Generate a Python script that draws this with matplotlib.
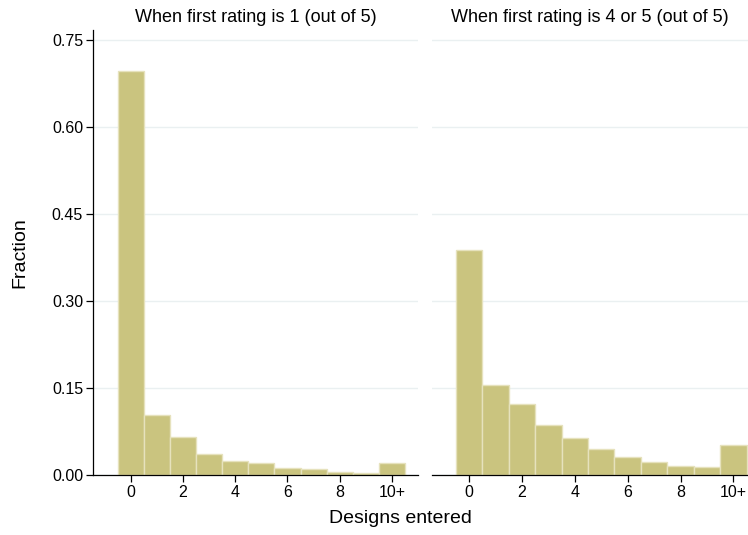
import matplotlib
matplotlib.use("Agg")
import matplotlib.pyplot as plt

plt.rcParams["font.family"] = ["Liberation Sans", "DejaVu Sans"]

bins = list(range(11))
tick_pos = [0, 2, 4, 6, 8, 10]
tick_labels = ["0", "2", "4", "6", "8", "10+"]
y_ticks = [0.0, 0.15, 0.30, 0.45, 0.60, 0.75]

frac_rating1 = [0.697, 0.103, 0.066, 0.037, 0.024, 0.020, 0.013, 0.010, 0.005, 0.0035, 0.021]
frac_rating45 = [0.388, 0.156, 0.122, 0.087, 0.064, 0.045, 0.032, 0.022, 0.0155, 0.014, 0.052]

titles = ["When first rating is 1 (out of 5)", "When first rating is 4 or 5 (out of 5)"]

BAR = "#cac47f"
EDGE = "#e6e2bd"
GRID = "#eaf0f1"

fig = plt.figure(figsize=(7.48, 5.35), dpi=100)
ax1 = fig.add_axes([0.124, 0.112, 0.435, 0.832])
ax2 = fig.add_axes([0.5775, 0.112, 0.4225, 0.832])

for ax, vals, title, xlim in [(ax1, frac_rating1, titles[0], (-1.45, 11.0)),
                              (ax2, frac_rating45, titles[1], (-1.4, 10.55))]:
    ax.bar(bins, vals, width=1.0, color=BAR, edgecolor=EDGE, linewidth=1.0, zorder=2)
    ax.set_xlim(*xlim)
    ax.set_ylim(0, 0.767)
    ax.set_yticks(y_ticks)
    ax.grid(True, axis="y", color=GRID, linewidth=1.0, zorder=0)
    ax.set_xticks(tick_pos)
    ax.set_xticklabels(tick_labels, fontsize=11.5)
    ax.tick_params(axis="x", length=5, width=0.9, pad=2)
    for s in ["top", "right"]:
        ax.spines[s].set_visible(False)
    ax.spines["bottom"].set_linewidth(0.9)
    ax.spines["left"].set_linewidth(0.9)
    ax.set_title(title, fontsize=13, pad=6)

ax1.set_yticklabels([f"{v:.2f}" for v in y_ticks], fontsize=11.5)
ax1.tick_params(axis="y", length=5, width=0.9, pad=2)
ax2.spines["left"].set_visible(False)
ax2.tick_params(axis="y", left=False, labelleft=False)

fig.text(0.535, 0.030, "Designs entered", ha="center", va="center", fontsize=14)
fig.text(0.026, 0.528, "Fraction", ha="center", va="center", rotation=90, fontsize=14)

fig.savefig("out.png", dpi=100)
